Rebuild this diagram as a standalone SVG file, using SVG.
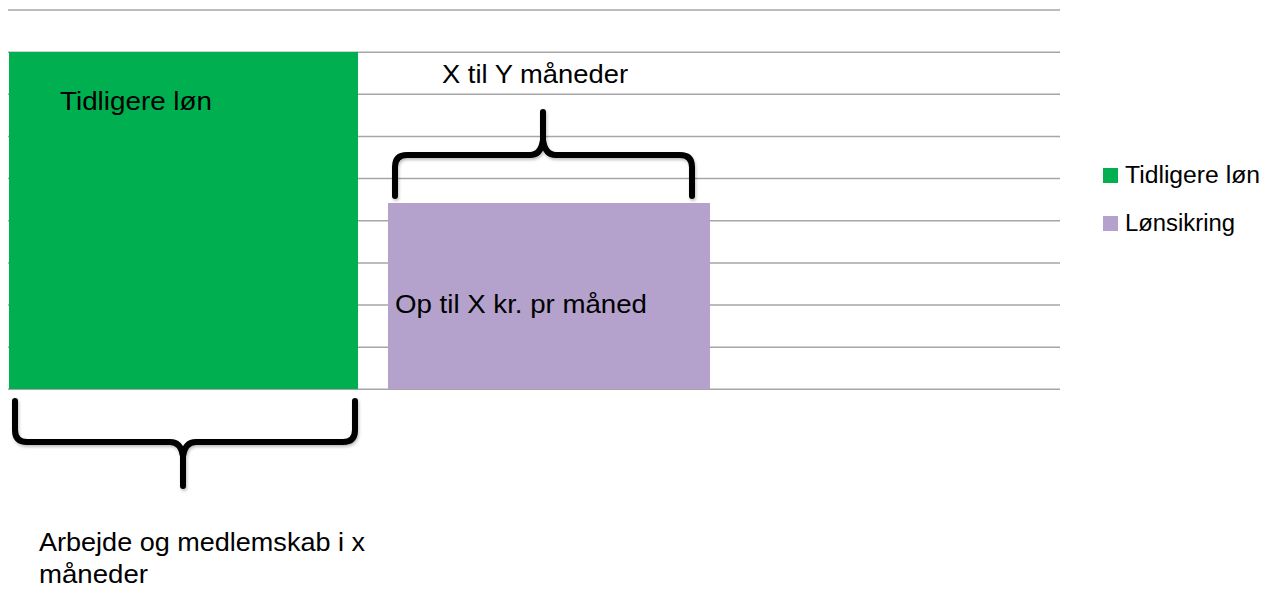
<svg xmlns="http://www.w3.org/2000/svg" width="1263" height="589" viewBox="0 0 1263 589">
  <defs>
    <style>
      .grid { stroke: #A6A6A6; stroke-width: 1.5; fill: none; }
      .lbl { font-family: "Liberation Sans", Arial, sans-serif; fill: #000; }
      .big { font-size: 26px; }
      .leg { font-size: 23px; }
      .brace { fill: none; stroke: #000; stroke-width: 6; stroke-linecap: round; stroke-linejoin: round; filter: url(#shadow); }
    </style>
    <filter id="shadow" x="-10%" y="-20%" width="120%" height="140%">
      <feDropShadow dx="1" dy="2" stdDeviation="1.5" flood-color="#000" flood-opacity="0.25"/>
    </filter>
  </defs>
  <rect width="1263" height="589" fill="#fff"/>

  <g id="gridlines">
    <line class="grid" x1="8" y1="10" x2="1060" y2="10"/>
    <line class="grid" x1="8" y1="52.2" x2="1060" y2="52.2"/>
    <line class="grid" x1="8" y1="94.3" x2="1060" y2="94.3"/>
    <line class="grid" x1="8" y1="136.5" x2="1060" y2="136.5"/>
    <line class="grid" x1="8" y1="178.6" x2="1060" y2="178.6"/>
    <line class="grid" x1="8" y1="220.7" x2="1060" y2="220.7"/>
    <line class="grid" x1="8" y1="262.9" x2="1060" y2="262.9"/>
    <line class="grid" x1="8" y1="305" x2="1060" y2="305"/>
    <line class="grid" x1="8" y1="347.2" x2="1060" y2="347.2"/>
    <line class="grid" x1="8" y1="389.3" x2="1060" y2="389.3"/>
  </g>

  <g id="bar-tidligere">
    <rect x="9" y="52" width="349" height="337" fill="#00B050"/>
    <text class="lbl big" x="60" y="110" textLength="152" lengthAdjust="spacingAndGlyphs">Tidligere løn</text>
  </g>

  <g id="bar-lonsikring">
    <rect x="388" y="203" width="322" height="186" fill="#B4A2CC"/>
    <text class="lbl big" x="395" y="313" textLength="252" lengthAdjust="spacingAndGlyphs">Op til X kr. pr måned</text>
  </g>

  <g id="connectors">
    <path class="brace" d="M395,196 V167 Q395,155 407,155 H530 Q541,155 543,140 V112 M543,140 Q545,155 556,155 H680 Q692,155 692,167 V196"/>
    <path class="brace" d="M15,401 V430 Q15,442 27,442 H170 Q181,442 183,456 V486 M183,456 Q185,442 196,442 H343 Q355,442 355,430 V401"/>
  </g>

  <g id="label-top">
    <text class="lbl big" x="442" y="83" textLength="186" lengthAdjust="spacingAndGlyphs">X til Y måneder</text>
  </g>

  <g id="label-bottom">
    <text class="lbl big" x="39" y="551" textLength="326" lengthAdjust="spacingAndGlyphs">Arbejde og medlemskab i x</text>
    <text class="lbl big" x="39" y="583" textLength="109" lengthAdjust="spacingAndGlyphs">måneder</text>
  </g>

  <g id="legend">
    <rect x="1103" y="168" width="15" height="15" fill="#00B050"/>
    <text class="lbl leg" x="1125" y="183" textLength="135" lengthAdjust="spacingAndGlyphs">Tidligere løn</text>
    <rect x="1103" y="216" width="15" height="15" fill="#B4A2CC"/>
    <text class="lbl leg" x="1125" y="231" textLength="110" lengthAdjust="spacingAndGlyphs">Lønsikring</text>
  </g>
</svg>
